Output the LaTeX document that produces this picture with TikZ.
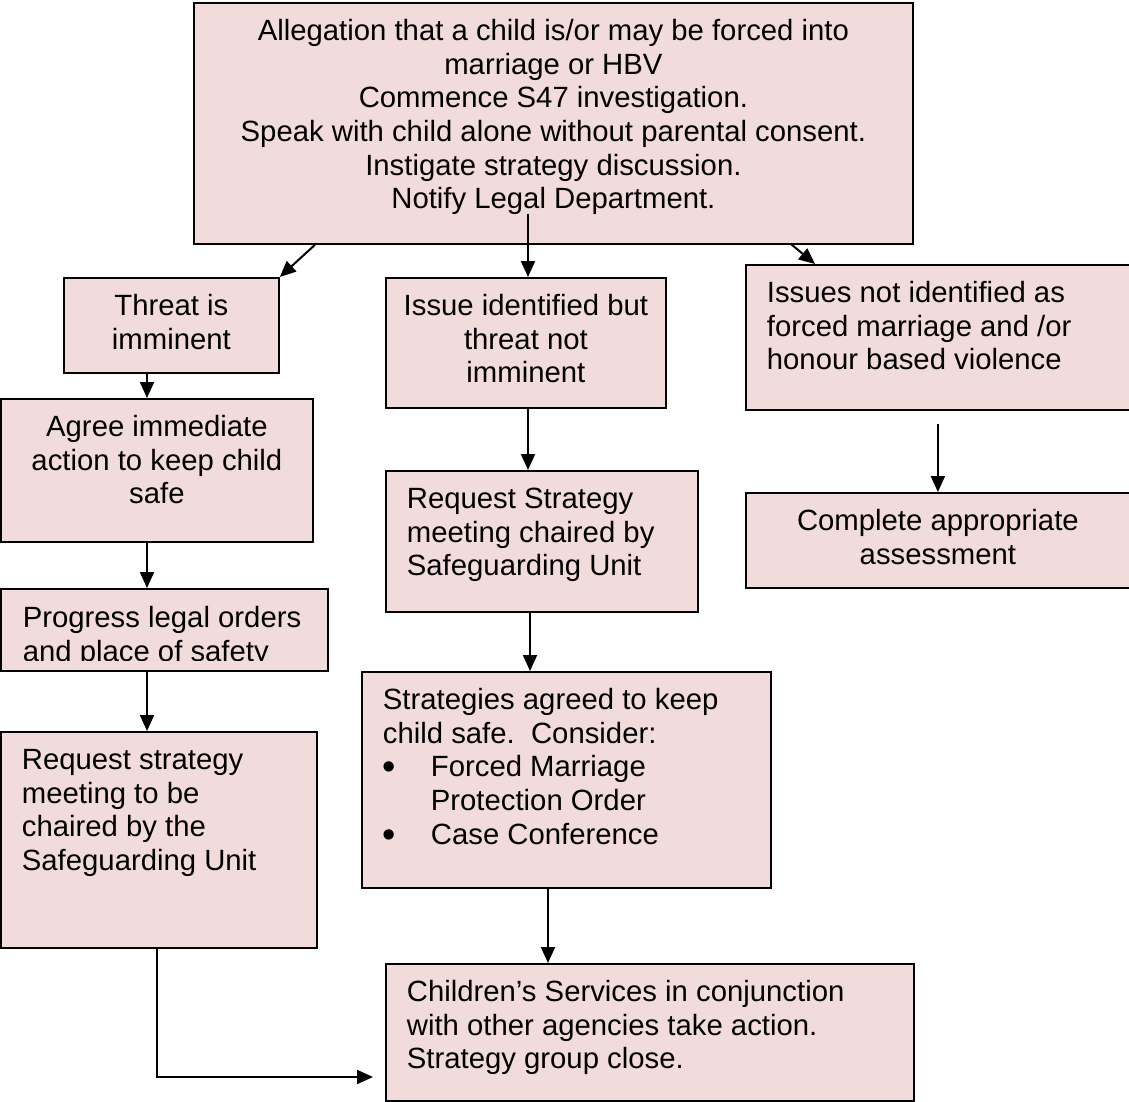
\documentclass[tikz,border=0pt]{standalone}
\usepackage{fontspec}
\setmainfont{Liberation Sans}
\usepackage{tikz}
\usetikzlibrary{arrows.meta}
\definecolor{BOXPINK}{HTML}{F2DBDB}
\definecolor{BLACK}{HTML}{000000}
\newcommand{\flowfont}{\fontsize{29.3}{33.7}\selectfont}
\newcommand{\flowtext}[4]{\parbox[c][#1][t]{#2}{#3\vspace*{14pt}\strut #4}}
\newcommand{\flowbullet}{\makebox[48pt][l]{\raisebox{-3pt}{\fontsize{38}{0}\selectfont•}}}
\tikzset{
    flowbox/.style={draw=BLACK, fill=BOXPINK, line width=1.8pt, anchor=north west,
        inner xsep=21pt, inner ysep=0pt, font=\flowfont},
    flowarrow/.style={BLACK, line width=2pt, -{Triangle[length=16pt,width=14pt]}}
}
\begin{document}
\begin{tikzpicture}[x=1pt, y=-1pt]
    \useasboundingbox (0,0) rectangle (1129,1102);
    \coordinate (leftcol) at (147,0);
    \coordinate (midcol) at (528,0);
    \coordinate (elbow) at (157,1077);

    \node[flowbox] (top) at (193,2) {\flowtext{241pt}{677pt}{\centering}{Allegation that a child is/or may be forced into\\ marriage or HBV\\ Commence S47 investigation.\\ Speak with child alone without parental consent.\\ Instigate strategy discussion.\\ Notify Legal Department.}};
    \node[flowbox] (threat) at (63,277) {\flowtext{95pt}{173pt}{\centering}{Threat is\\ imminent}};
    \node[flowbox, inner xsep=8pt] (issue) at (385,277) {\flowtext{130pt}{264pt}{\centering}{Issue identified but\\ threat not\\ imminent}};
    \node[flowbox] (notident) at (745,264) {\flowtext{145pt}{342pt}{\raggedright}{Issues not identified as\\ forced marriage and /or\\ honour based violence}};
    \node[flowbox] (agree) at (0,398) {\flowtext{143pt}{270pt}{\centering}{Agree immediate\\ action to keep child\\ safe}};
    \node[flowbox] (reqmid) at (385,470) {\flowtext{141pt}{270pt}{\raggedright}{Request Strategy\\ meeting chaired by\\ Safeguarding Unit}};
    \node[flowbox] (complete) at (745,492) {\flowtext{95pt}{342pt}{\centering}{Complete appropriate\\ assessment}};
    % text of this box is cut off at the bottom
    \node[flowbox, minimum width=327pt, minimum height=82pt, path picture={
        \clip (path picture bounding box.north west) rectangle ([yshift=10pt]path picture bounding box.south east);
        \node[anchor=north west, inner xsep=21pt, inner ysep=0pt, font=\flowfont] (legaltext) at (path picture bounding box.north west)
            {\flowtext{82pt}{285pt}{\raggedright}{Progress legal orders\\ and place of safety}};
    }] (legal) at (0,588) {};
    \node[flowbox] (reqleft) at (0,731) {\flowtext{216pt}{274pt}{\raggedright}{Request strategy\\ meeting to be\\ chaired by the\\ Safeguarding Unit}};
    \node[flowbox] (strategies) at (361,671) {\flowtext{216pt}{367pt}{\raggedright}{Strategies agreed to keep\\ child safe.\ \ Consider:\\ \flowbullet Forced Marriage\\ \hspace*{48pt}Protection Order\\ \flowbullet Case Conference}};
    \node[flowbox] (children) at (385,963) {\flowtext{137pt}{486pt}{\raggedright}{Children’s Services in conjunction\\ with other agencies take action.\\ Strategy group close.}};

    \draw[flowarrow] ([xshift=122pt]top.south west) -- (threat.north east);
    \draw[flowarrow] ([yshift=31pt]top.south -| midcol) -- (issue.north -| midcol);
    \draw[flowarrow] ([xshift=-122pt]top.south east) -- ([xshift=70pt]notident.north west);
    \draw[flowarrow] (threat.south -| leftcol) -- (agree.north -| leftcol);
    \draw[flowarrow] (agree.south -| leftcol) -- (legal.north -| leftcol);
    \draw[flowarrow] (legal.south -| leftcol) -- (reqleft.north -| leftcol);
    \draw[flowarrow] (reqleft.south -| elbow) -- (elbow) -- ([xshift=-12pt]children.west |- elbow);
    \draw[flowarrow] (issue.south -| midcol) -- (reqmid.north -| midcol);
    \draw[flowarrow] ([xshift=145pt]reqmid.south west) -- ([xshift=169pt]strategies.north west);
    \draw[flowarrow] ([xshift=187pt]strategies.south west) -- ([xshift=163pt]children.north west);
    \draw[flowarrow] ([yshift=-13pt]notident.south -| complete.north) -- (complete.north);
\end{tikzpicture}
\end{document}
